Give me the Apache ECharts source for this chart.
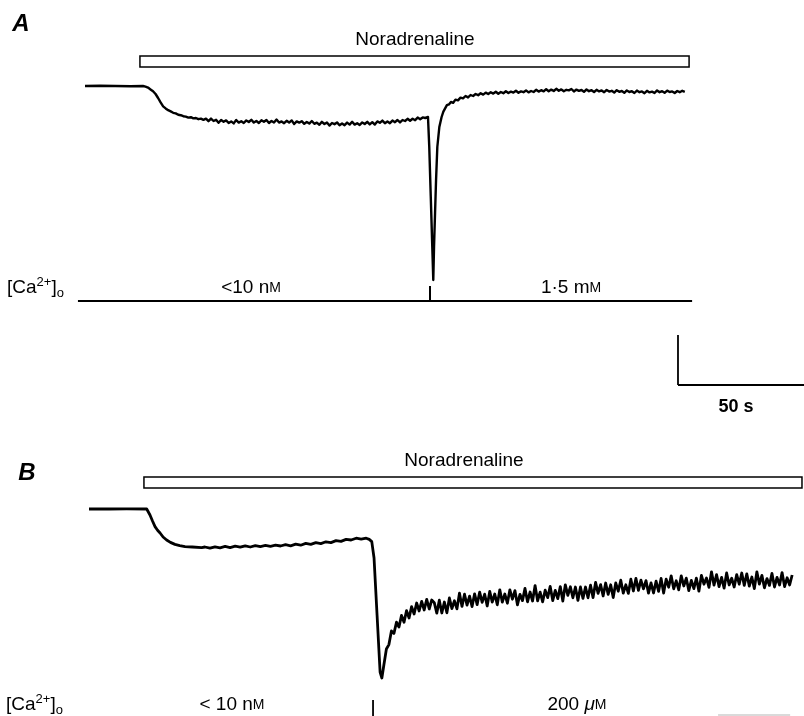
<!DOCTYPE html>
<html>
<head>
<meta charset="utf-8">
<script src="https://cdn.jsdelivr.net/npm/echarts@6/dist/echarts.min.js"></script>
<style>
  html, body { margin: 0; padding: 0; background: #fff; }
  #chart { width: 804px; height: 716px; }
</style>
</head>
<body>
<div id="chart"></div>
<script>
// ---- data: membrane current (pA) against time (s) ----

// panel A, <10 nM -> 1.5 mM Ca
var baselineA = [[0, 0], [6, 1], [12, 0], [18, -1], [23, 0]];
var onsetA = [-3, -8, -17, -26, -40, -60, -82, -102, -112, -121, -127, -134, -137, -144, -146, -151, -153, -158, -156, -162, -160, -166, -163, -169];
var plateauA = [
  -163, -176, -163, -175, -169, -184, -170, -179, -172, -185,
  -177, -187, -170, -183, -176, -185, -172, -180, -169, -183,
  -175, -185, -171, -179, -170, -185, -175, -183, -168, -183,
  -177, -186, -174, -183, -172, -190, -177, -183, -176, -189,
  -180, -188, -175, -189, -183, -194, -179, -190, -183, -198,
  -185, -191, -182, -196, -187, -196, -183, -193, -179, -193,
  -186, -195, -182, -190, -179, -192, -181, -193, -177, -184,
  -173, -186, -177, -186, -173, -181, -170, -182, -170, -175,
  -164, -174, -164, -171, -158, -166, -157, -160
];
var spikeA = [[136.1, -155], [136.6, -303], [137.2, -553], [137.8, -803], [138.2, -970], [138.5, -803], [138.9, -635], [139.3, -470], [139.8, -305], [140.6, -205], [141.5, -155], [142.2, -128], [142.9, -112], [143.6, -96], [144.4, -92], [145.2, -80], [146.1, -84], [147.0, -68], [148.0, -72], [149.0, -58], [150.0, -62]];
var recoveryA = [
  -50, -57, -45, -50, -40, -46, -36, -43, -33, -40,
  -31, -38, -29, -39, -30, -36, -26, -35, -28, -33,
  -24, -34, -27, -31, -22, -32, -25, -30, -19, -28,
  -21, -27, -16, -26, -18, -25, -14, -24, -17, -26,
  -19, -22, -15, -27, -18, -24, -20, -29, -17, -26,
  -21, -30, -19, -27, -22, -31, -20, -28, -24, -33,
  -21, -29, -25, -34, -22, -30, -26, -35, -23, -31,
  -27, -36, -24, -32, -28, -35, -22, -31, -26, -34,
  -23, -30, -27, -35, -25, -31, -24, -29
];
var drugA = [21.8, 239.7];          // noradrenaline on / off
var solutionA = [-2.8, 240.9];      // extent of the solution line
var switchA = 136.9;                // <10 nM -> 1.5 mM

// panel B, <10 nM -> 200 uM Ca
var baselineB = [[0, 0], [8, 0], [15, 1], [22.9, 0]];
var onsetB = [[23.5, -8], [24.2, -30], [25.2, -60], [26.2, -88], [27.2, -106], [28.2, -120], [29.4, -140], [30.8, -155], [32.3, -167], [34.1, -177], [36, -183], [38.1, -188], [41, -190], [44.7, -193]];
var plateauB = [-190, -196, -189, -194, -187, -193, -186, -191, -184, -190, -183, -188, -182, -187, -181, -185, -178, -184, -176, -181, -172, -177, -168, -173, -164, -168, -158, -162, -152, -155, -146, -151, -146];
var dipB = [[111.2, -152], [112.2, -163], [113.1, -245], [114.3, -530], [115.5, -815], [116.2, -845]];
var recoveryB = [
  -780, -700, -678, -610, -622, -566, -590, -532, -566, -508,
  -545, -488, -525, -470, -510, -462, -505, -452, -500, -455,
  -468, -521, -456, -520, -465, -519, -445, -498, -459, -499,
  -421, -487, -426, -481, -436, -488, -424, -478, -416, -467,
  -426, -485, -412, -466, -425, -479, -404, -466, -425, -471,
  -404, -451, -408, -479, -427, -458, -397, -464, -415, -460,
  -383, -459, -416, -464, -406, -443, -387, -458, -407, -448,
  -388, -460, -379, -432, -389, -444, -390, -457, -390, -447,
  -390, -444, -381, -443, -367, -422, -378, -435, -370, -427,
  -379, -443, -370, -411, -356, -421, -379, -422, -351, -410,
  -347, -407, -356, -399, -358, -421, -369, -420, -361, -412,
  -347, -420, -351, -391, -334, -399, -359, -404, -334, -385,
  -346, -408, -357, -398, -346, -411, -332, -376, -345, -392,
  -314, -381, -328, -388, -342, -396, -320, -380, -346, -390,
  -328, -376, -320, -382, -324, -386, -340, -398, -314, -376,
  -332, -394, -348, -382, -322, -390, -342, -380, -318, -388,
  -344, -380, -330
];
var drugB = [21.8, 282.9];
var solutionB = [249.6, 278.2];     // only the cut edge of the line shows
var switchB = 112.7;

var scaleBar = [50, 250];           // s, pA

// ---- layout (pA levels used only for placing the annotations) ----
var FONT = '"Liberation Sans", Arial, Helvetica, sans-serif';
var barLevelA = [95, 150], barLevelB = [105, 160];
var caLevelA = -1075, tickA = 75;
var tickB = [-955, -1035], edgeB = -1030;
var scaleOrigin = [235.3, -1495];

function sampled(t0, dt, values) {
  return values.map(function (v, i) { return [t0 + i * dt, v]; });
}

var traceA = [].concat(baselineA, sampled(24, 1, onsetA), sampled(48, 1, plateauA), spikeA, sampled(151, 1, recoveryA));
var traceB = [].concat(baselineB, onsetB, sampled(46, 2, plateauB), dipB, sampled(117, 1, recoveryB));

function barItem(params, api) {
  var p0 = api.coord([api.value(0), api.value(3)]);
  var p1 = api.coord([api.value(1), api.value(2)]);
  return {
    type: 'rect',
    shape: { x: p0[0], y: p0[1], width: p1[0] - p0[0], height: p1[1] - p0[1] },
    style: { fill: '#fff', stroke: '#000', lineWidth: 1.5 }
  };
}

function segItem(color, width) {
  return function (params, api) {
    var a = api.coord([api.value(0), api.value(1)]);
    var b = api.coord([api.value(2), api.value(3)]);
    return {
      type: 'line',
      shape: { x1: a[0], y1: a[1], x2: b[0], y2: b[1] },
      style: { stroke: color, lineWidth: width }
    };
  };
}

function trace(idx, data, width) {
  return {
    type: 'line', xAxisIndex: idx, yAxisIndex: idx, data: data,
    symbol: 'none', showSymbol: false, clip: false, animation: false,
    lineStyle: { color: '#000', width: width, join: 'round' }
  };
}

function custom(idx, data, render) {
  return { type: 'custom', xAxisIndex: idx, yAxisIndex: idx, data: data, renderItem: render, clip: false, animation: false, silent: true };
}

// small caps M, italic mu, super/subscripts share one 24 px line box
var baseText = { fill: '#000', fontFamily: FONT, fontSize: 19, align: 'center', verticalAlign: 'middle', lineHeight: 24 };
var richUnits = {
  sc: { fontFamily: FONT, fontSize: 14, lineHeight: 24 },
  mu: { fontFamily: FONT, fontSize: 19, fontStyle: 'italic', lineHeight: 24 },
  sup: { fontFamily: FONT, fontSize: 13, lineHeight: 11.1, verticalAlign: 'top' },
  sub: { fontFamily: FONT, fontSize: 13, lineHeight: 12.8, verticalAlign: 'bottom' }
};

function text(str, x, y, extra) {
  var style = Object.assign({ text: str, x: x, y: y, rich: richUnits }, baseText, extra || {});
  return { type: 'text', silent: true, style: style };
}

var caLabel = '[Ca{sup|2+}]{sub|o}';

var option = {
  backgroundColor: '#fff',
  animation: false,
  // 2.52 px per s and 5 pA per px in both panels
  grid: [
    { left: 85, top: 6, right: 0, height: 400 },
    { left: 89, top: 429, right: 0, height: 287 }
  ],
  xAxis: [
    { type: 'value', gridIndex: 0, min: 0, max: 285.3, show: false },
    { type: 'value', gridIndex: 1, min: 0, max: 283.7, show: false }
  ],
  yAxis: [
    { type: 'value', gridIndex: 0, min: -1600, max: 400, show: false },
    { type: 'value', gridIndex: 1, min: -1035, max: 400, show: false }
  ],
  series: [
    custom(0, [[drugA[0], drugA[1], barLevelA[0], barLevelA[1]]], barItem),
    trace(0, traceA, 2.4),
    custom(0, [
      [solutionA[0], caLevelA, solutionA[1], caLevelA],
      [switchA, caLevelA, switchA, caLevelA + tickA]
    ], segItem('#000', 2)),
    custom(0, [
      [scaleOrigin[0], scaleOrigin[1], scaleOrigin[0], scaleOrigin[1] + scaleBar[1]],
      [scaleOrigin[0], scaleOrigin[1], scaleOrigin[0] + scaleBar[0], scaleOrigin[1]]
    ], segItem('#000', 1.8)),

    custom(1, [[drugB[0], drugB[1], barLevelB[0], barLevelB[1]]], barItem),
    trace(1, traceB, 2.8),
    custom(1, [[switchB, tickB[0], switchB, tickB[1]]], segItem('#000', 1.8)),
    custom(1, [[solutionB[0], edgeB, solutionB[1], edgeB]], segItem('#b5b5b5', 1.2))
  ],
  graphic: [
    text('A', 21, 24, { fontSize: 24, fontWeight: 'bold', fontStyle: 'italic' }),
    text('Noradrenaline', 415, 40),
    text(caLabel, 7, 288, { align: 'left' }),
    text('<10 n{sc|M}', 251, 288),
    text('1·5 m{sc|M}', 571, 288),
    text('50 s', 736, 407, { fontSize: 18, fontWeight: 'bold' }),

    text('B', 27, 473, { fontSize: 24, fontWeight: 'bold', fontStyle: 'italic' }),
    text('Noradrenaline', 464, 461),
    text(caLabel, 6, 705, { align: 'left' }),
    text('< 10 n{sc|M}', 232, 705),
    text('200 {mu|μ}{sc|M}', 577, 705)
  ]
};

var chart = echarts.init(document.getElementById('chart'));
chart.setOption(option);
</script>
</body>
</html>
